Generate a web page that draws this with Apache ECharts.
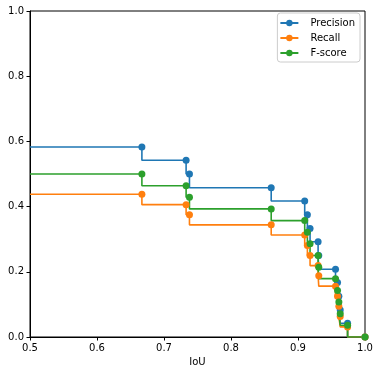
<!DOCTYPE html>
<html>
<head>
<meta charset="utf-8">
<script src="https://cdn.jsdelivr.net/npm/echarts@6/dist/echarts.min.js"></script>
<style>html,body{margin:0;padding:0;background:#fff;}#c{width:380px;height:375px;}</style>
</head>
<body>
<div id="c"></div>
<script>
const iou = [0.5, 0.667, 0.733, 0.738, 0.860, 0.910, 0.914, 0.918, 0.930, 0.931, 0.956, 0.959, 0.961, 0.963, 0.974, 1.0];
const precision = [0.583, 0.583, 0.542, 0.500, 0.458, 0.417, 0.375, 0.333, 0.292, 0.250, 0.208, 0.167, 0.125, 0.083, 0.042, 0.0];
const recall = [0.438, 0.438, 0.406, 0.375, 0.344, 0.313, 0.281, 0.250, 0.219, 0.188, 0.156, 0.125, 0.094, 0.063, 0.031, 0.0];
const fscore = [0.500, 0.500, 0.464, 0.429, 0.393, 0.357, 0.321, 0.286, 0.250, 0.214, 0.179, 0.143, 0.107, 0.071, 0.036, 0.0];
const xTicks = [0.5, 0.6, 0.7, 0.8, 0.9, 1.0];
const yTicks = [0.0, 0.2, 0.4, 0.6, 0.8, 1.0];
const names = ['Precision', 'Recall', 'F-score'];
const colors = ['#1f77b4', '#ff7f0e', '#2ca02c'];

const FONT = 'DejaVu Sans';
function mk(vals) {
  return iou.map((x, i) => i === 0 ? { value: [x, vals[i]], symbol: 'none' } : [x, vals[i]]);
}
const chart = echarts.init(document.getElementById('c'), null, { renderer: 'canvas' });
chart.setOption({
  animation: false,
  backgroundColor: '#fff',
  textStyle: { fontFamily: FONT },
  grid: { left: 30, right: 15, top: 11, bottom: 38, show: true, borderColor: '#000', borderWidth: 1, backgroundColor: 'transparent' },
  legend: {
    data: names,
    orient: 'vertical',
    right: 20,
    top: 13,
    itemWidth: 18,
    itemHeight: 8,
    itemGap: 3,
    padding: [4, 5, 3, 2],
    borderColor: '#cccccc',
    borderWidth: 1,
    borderRadius: 3,
    backgroundColor: 'rgba(255,255,255,0.8)',
    textStyle: { fontFamily: FONT, fontSize: 10, color: '#000', lineHeight: 12, padding: [0, 0, 0, 7] }
  },
  xAxis: {
    type: 'value', min: 0.5, max: 1.0, interval: 0.1,
    name: 'IoU', nameLocation: 'middle', nameGap: 18,
    nameTextStyle: { fontFamily: FONT, fontSize: 10, color: '#000' },
    axisLine: { show: true, lineStyle: { color: '#000', width: 1 } },
    axisTick: { show: true, length: 3.5, lineStyle: { color: '#000' } },
    axisLabel: { fontFamily: FONT, fontSize: 10, color: '#000', margin: 6, formatter: v => xTicks.some(t => Math.abs(t - v) < 1e-9) ? v.toFixed(1) : '' },
    splitLine: { show: false }
  },
  yAxis: {
    type: 'value', min: 0, max: 1.0, interval: 0.2,
    axisLine: { show: true, lineStyle: { color: '#000', width: 1 } },
    axisTick: { show: true, length: 3.5, lineStyle: { color: '#000' } },
    axisLabel: { fontFamily: FONT, fontSize: 10, color: '#000', margin: 6, formatter: v => yTicks.some(t => Math.abs(t - v) < 1e-9) ? v.toFixed(1) : '' },
    splitLine: { show: false }
  },
  series: [precision, recall, fscore].map((vals, i) => ({
    name: names[i],
    type: 'line',
    step: 'start',
    data: mk(vals),
    symbol: 'circle',
    symbolSize: 7,
    showAllSymbol: true,
    clip: true,
    color: colors[i],
    itemStyle: { color: colors[i] },
    lineStyle: { color: colors[i], width: 1.6 },
    emphasis: { disabled: true }
  }))
});
</script>
</body>
</html>
